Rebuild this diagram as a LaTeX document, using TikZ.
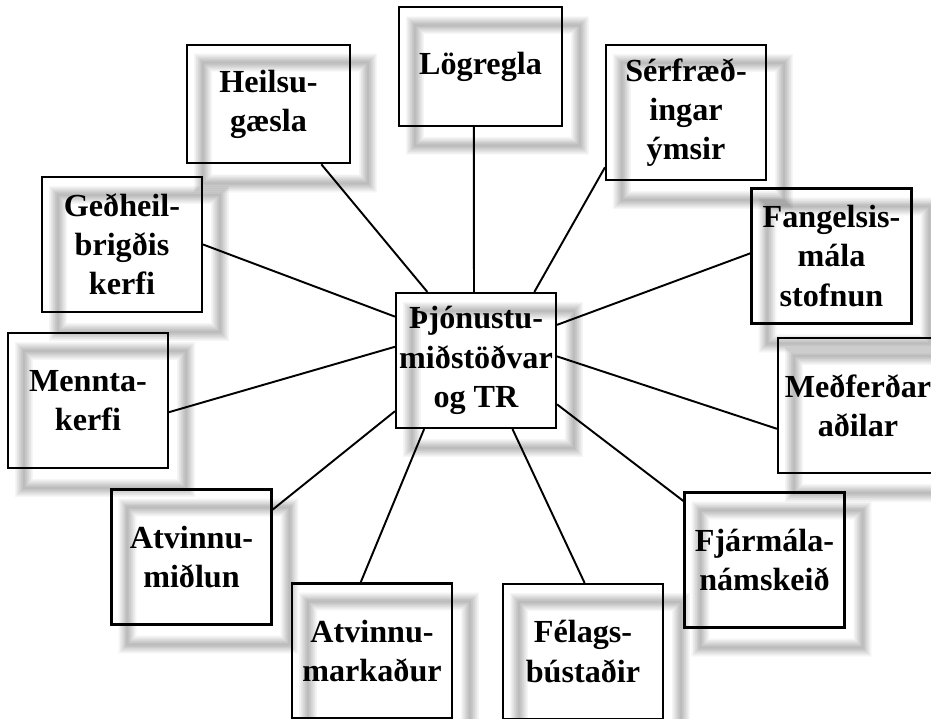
\documentclass[tikz,border=0pt]{standalone}
\usepackage{fontspec}
\setmainfont{Liberation Serif}
\usetikzlibrary{calc,backgrounds}
\begin{document}
\begin{tikzpicture}[x=0.02cm,y=-0.02cm,
  box/.style={draw, line width=1.2pt, minimum width=3.2cm, minimum height=2.7cm,
    inner sep=0pt, align=center, font=\bfseries\fontsize{18.3}{22.3}\selectfont},
  flatbox/.style={box, minimum width=3.26cm, minimum height=2.37cm},
  link/.style={line width=1.1pt}]
\useasboundingbox (0,0) rectangle (931,719);

\node[flatbox] (heil) at (268.5,104) {Heilsu-\\gæsla};
\node[flatbox] (log) at (480.5,66.5) {Lögregla};
\node[box] (ser) at (686,112.5) {Sérfræð-\\ingar\\ýmsir};
\node[box] (fan) at (831.5,256) {Fangelsis-\\mála\\stofnun};
\node[box] (med) at (858,405.5) {Meðferðar\\aðilar};
\node[box] (fja) at (764.5,560) {Fjármála-\\námskeið};
\node[box] (fel) at (583,651.5) {Félags-\\bústaðir};
\node[box] (mar) at (372,651) {Atvinnu-\\markaður};
\node[box] (mid) at (191.5,557) {Atvinnu-\\miðlun};
\node[box] (men) at (88,400.5) {Mennta-\\kerfi};
\node[box] (ged) at (122,244.5) {Geðheil-\\brigðis\\kerfi};
\node[box] (ctr) at (476,360.5) {Þjónustu-\\miðstöðvar\\og TR};

\begin{scope}[on background layer]
\fill[white] (0,0) rectangle (931,719);
\foreach \n in {heil,log,ser,fan,med,fja,fel,mar,mid,men,ged,ctr} {
  \foreach \i in {1,...,14}
    \draw[line width=\i*0.75pt, opacity=0.02, black]
      ([shift={(17,19)}]\n.north west) rectangle ([shift={(17,19)}]\n.south east);
}
\end{scope}

\draw[link] ($(heil.south west)!0.82!(heil.south east)$) -- ($(ctr.north west)!0.2!(ctr.north east)$);
\draw[link] ($(log.south west)!0.46!(log.south east)$) -- ($(ctr.north west)!0.4875!(ctr.north east)$);
\draw[link] ($(ser.north west)!0.9!(ser.south west)$) -- ($(ctr.north west)!0.86!(ctr.north east)$);
\draw[link] ($(fan.north west)!0.48!(fan.south west)$) -- ($(ctr.north east)!0.24!(ctr.south east)$);
\draw[link] ($(med.north west)!0.67!(med.south west)$) -- ($(ctr.north east)!0.47!(ctr.south east)$);
\draw[link] ($(fja.north west)!0.07!(fja.south west)$) -- ($(ctr.north east)!0.82!(ctr.south east)$);
\draw[link] ($(fel.north west)!0.51!(fel.north east)$) -- ($(ctr.south west)!0.725!(ctr.south east)$);
\draw[link] ($(mar.north west)!0.43!(mar.north east)$) -- ($(ctr.south west)!0.18!(ctr.south east)$);
\draw[link] ($(mid.north east)!0.155!(mid.south east)$) -- ($(ctr.north west)!0.87!(ctr.south west)$);
\draw[link] ($(men.north east)!0.585!(men.south east)$) -- ($(ctr.north west)!0.4!(ctr.south west)$);
\draw[link] (ged.east) -- ($(ctr.north west)!0.18!(ctr.south west)$);
\end{tikzpicture}
\end{document}
